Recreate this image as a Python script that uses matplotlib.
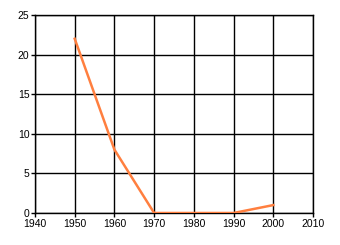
import matplotlib
matplotlib.use("Agg")
import matplotlib.pyplot as plt

years = [1950, 1960, 1970, 1980, 1990, 2000]
values = [22, 8, 0, 0, 0, 1]
x_ticks = [1940, 1950, 1960, 1970, 1980, 1990, 2000, 2010]
y_ticks = [0, 5, 10, 15, 20, 25]

plt.rcParams['font.family'] = ['Liberation Sans', 'DejaVu Sans']
fig = plt.figure(figsize=(3.4, 2.45), dpi=100)
ax = fig.add_axes([35/340, 1-213/245, (313-35)/340, (213-15)/245])
ax.plot(years, values, color='#FF7F3F', linewidth=1.8, zorder=3, solid_joinstyle='round')
ax.set_xlim(1940, 2010)
ax.set_ylim(0, 25)
ax.set_xticks(x_ticks)
ax.set_yticks(y_ticks)
ax.grid(True, color='black', linewidth=1)
for s in ax.spines.values():
    s.set_color('black')
    s.set_linewidth(1)
ax.tick_params(axis='both', length=3, width=1, color='black', labelsize=7.5, pad=1, labelcolor='black')
fig.savefig("out.png", dpi=100)
